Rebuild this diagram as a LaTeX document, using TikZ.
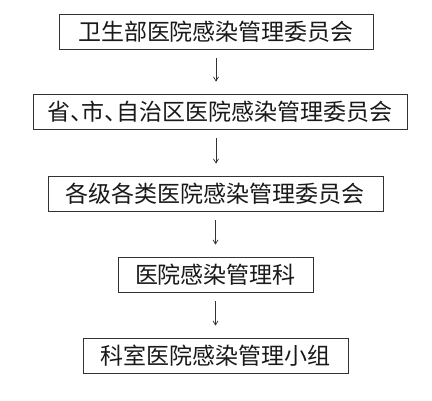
\documentclass[tikz,border=0pt]{standalone}
\usepackage{fontspec}
\newfontfamily\cjk{Noto Sans CJK SC}
\usetikzlibrary{calc}
\usetikzlibrary{arrows.meta}
\definecolor[named]{BoxLine}{gray}{0.2}
\definecolor[named]{BoxText}{gray}{0.1}
\newcommand{\orgsize}{\fontsize{23}{27}\selectfont}
\newcommand{\dun}{、\kern-.5em}
\tikzset{
  org/.style={draw=BoxLine,line width=0.9pt,rectangle,text=BoxText,
    minimum height=35pt,inner sep=0pt,font=\cjk\orgsize},
  down/.style={draw=BoxLine,line width=0.7pt,-{Straight Barb[length=4pt,width=5pt]},
    shorten <=9pt,shorten >=12pt}
}

\begin{document}
\begin{tikzpicture}[x=1pt,y=-1pt]
      \path[use as bounding box,fill=white] (0,0) rectangle (432,400);

      % levels {{{
      \node[org,minimum width=314pt] (ministry) at (216,31.5) {卫生部医院感染管理委员会};
      \node[org,minimum width=374pt] (province) at (220,111.5) {省\dun 市\dun 自治区医院感染管理委员会};
      \node[org,minimum width=335pt] (hospital) at (215.5,193.5) {各级各类医院感染管理委员会};
      \node[org,minimum width=195pt] (office) at (215.5,274.5) {医院感染管理科};
      \node[org,minimum width=265pt] (dept) at (215.5,355.5) {科室医院感染管理小组};
      % }}}

      % arrows {{{
      \draw[down] (ministry.south) -- (ministry.south |- province.north);
      \draw[down] (ministry.south |- province.south) -- (ministry.south |- hospital.north);
      \draw[down] (hospital.south) -- (office.north);
      \draw[down] (office.south) -- (dept.north);
      % }}}

    \end{tikzpicture}
\end{document}
